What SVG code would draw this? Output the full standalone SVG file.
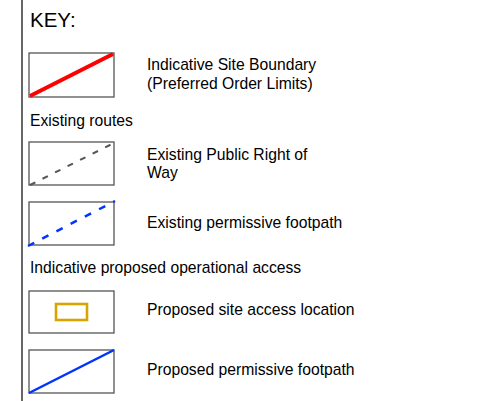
<svg xmlns="http://www.w3.org/2000/svg" width="493" height="401" viewBox="0 0 493 401">
<style>
text{font-family:"Liberation Sans",Arial,sans-serif;fill:#000;font-size:15.7px}
text.key{font-size:20.5px}
.box{fill:#fff;stroke:#555;stroke-width:1.3}
</style>
<rect width="493" height="401" fill="#fff"/>
<line x1="22" y1="0" x2="22" y2="401" stroke="#000" stroke-width="1.2"/>
<text class="key" x="30" y="27">KEY:</text>
<g id="site-boundary">
<rect class="box" x="29" y="53" width="85" height="44"/>
<line x1="30" y1="96" x2="113" y2="54" stroke="#ff0000" stroke-width="4"/>
<text x="147" y="70">Indicative Site Boundary</text>
<text x="147" y="89">(Preferred Order Limits)</text>
</g>
<text x="30" y="126">Existing routes</text>
<g id="prow">
<rect class="box" x="29" y="142" width="85" height="43"/>
<line x1="30" y1="185" x2="114" y2="143" stroke="#555" stroke-width="2" stroke-dasharray="6,8"/>
<text x="147" y="160">Existing Public Right of</text>
<text x="147" y="178">Way</text>
</g>
<g id="existing-permissive">
<rect class="box" x="29" y="202" width="85" height="43"/>
<line x1="28" y1="246" x2="115" y2="201" stroke="#0033ff" stroke-width="2.5" stroke-dasharray="7,9"/>
<text x="147" y="228">Existing permissive footpath</text>
</g>
<text x="30" y="273">Indicative proposed operational access</text>
<g id="site-access">
<rect class="box" x="29" y="291" width="85" height="42"/>
<rect x="56" y="304" width="31" height="16" fill="none" stroke="#d8a500" stroke-width="2.6"/>
<text x="147" y="315">Proposed site access location</text>
</g>
<g id="proposed-permissive">
<rect class="box" x="29" y="350" width="85" height="43"/>
<line x1="29" y1="393" x2="114" y2="350" stroke="#0033ff" stroke-width="2.5"/>
<text x="147" y="375">Proposed permissive footpath</text>
</g>
</svg>
